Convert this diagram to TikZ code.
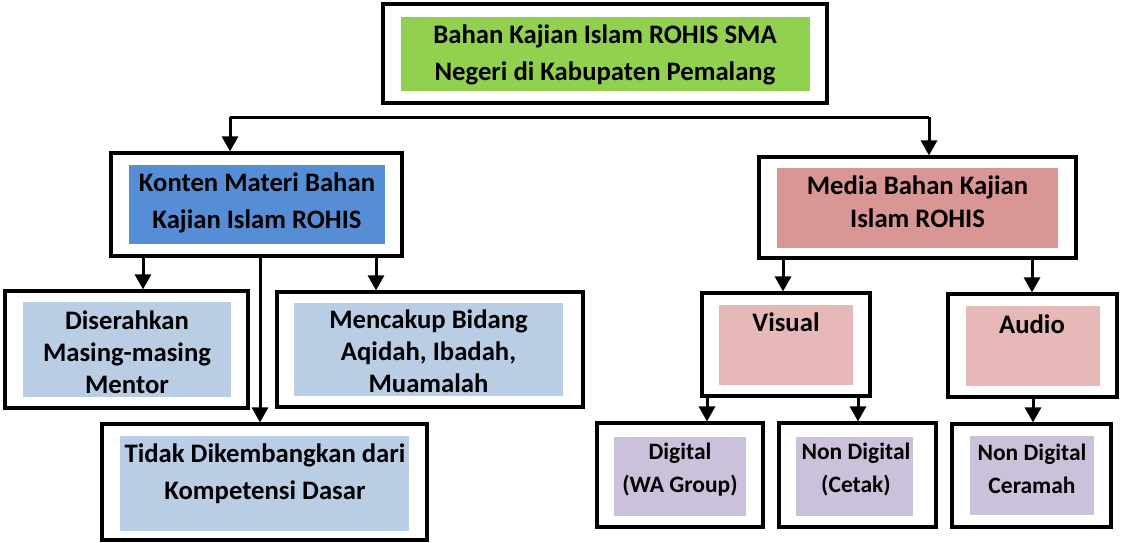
\documentclass[tikz,border=0pt]{standalone}
\usepackage{fontspec}
\setmainfont{Carlito}
\usetikzlibrary{arrows.meta}
\definecolor{cgreen}{RGB}{146,208,80}
\definecolor{cblue}{RGB}{85,142,213}
\definecolor{cmedia}{RGB}{217,150,148}
\definecolor{cpink}{RGB}{230,185,184}
\definecolor{clblue}{RGB}{185,205,229}
\definecolor{clav}{RGB}{204,193,218}
\tikzset{
  outerbox/.style={draw=black, line width=3.2pt, fill=white, inner sep=0pt, rectangle},
  fillbox/.style={draw=none, inner sep=0pt, rectangle},
  bigtxt/.style={font=\bfseries\fontsize{26.7}{37}\selectfont, align=center, inner sep=0pt, anchor=base},
  midtxt/.style={font=\bfseries\fontsize{26.7}{32}\selectfont, align=center, inner sep=0pt, anchor=base},
  medtxt/.style={font=\bfseries\fontsize{26.7}{33}\selectfont, align=center, inner sep=0pt, anchor=base},
  smalltxt/.style={font=\bfseries\fontsize{23.5}{33}\selectfont, align=center, inner sep=0pt, anchor=base},
  conn/.style={line width=3pt, -{Triangle[length=15pt,width=16pt]}},
  plain/.style={line width=3pt}
}
\begin{document}
\begin{tikzpicture}[x=1pt,y=-1pt]
\useasboundingbox (0,0) rectangle (1123,542);
% boxes
\node[outerbox, minimum width=444pt, minimum height=99pt] (top) at (605,53.5) {};
\node[fillbox, fill=cgreen, minimum width=409pt, minimum height=74pt] (topf) at (605.5,54) {};
\node[bigtxt] (topt) at (605,80) {Bahan Kajian Islam ROHIS SMA\\Negeri di Kabupaten Pemalang};

\node[outerbox, minimum width=291pt, minimum height=103pt] (konten) at (256.5,204.5) {};
\node[fillbox, fill=cblue, minimum width=256pt, minimum height=79pt] (kontenf) at (257,204.5) {};
\node[bigtxt] (kontent) at (257,228) {Konten Materi Bahan\\Kajian Islam ROHIS};

\node[outerbox, minimum width=243pt, minimum height=117pt] (diser) at (126.5,349.5) {};
\node[fillbox, fill=clblue, minimum width=208pt, minimum height=95pt] (diserf) at (127,349.5) {};
\node[midtxt] (disert) at (127,393) {Diserahkan\\Masing-masing\\Mentor};

\node[outerbox, minimum width=306pt, minimum height=115pt] (menc) at (430,349.5) {};
\node[fillbox, fill=clblue, minimum width=269pt, minimum height=93pt] (mencf) at (428.5,349.5) {};
\node[midtxt] (menct) at (428.5,392) {Mencakup Bidang\\Aqidah, Ibadah,\\Muamalah};

\node[outerbox, minimum width=325pt, minimum height=116pt] (tidak) at (264.5,482) {};
\node[fillbox, fill=clblue, minimum width=289pt, minimum height=95pt] (tidakf) at (264.5,483.5) {};
\node[bigtxt] (tidakt) at (265,499) {Tidak Dikembangkan dari\\Kompetensi Dasar};

\node[outerbox, minimum width=317pt, minimum height=101pt] (media) at (917.5,207.5) {};
\node[fillbox, fill=cmedia, minimum width=281pt, minimum height=80pt] (mediaf) at (917.5,208) {};
\node[medtxt] (mediat) at (917.5,227) {Media Bahan Kajian\\Islam ROHIS};

\node[outerbox, minimum width=168pt, minimum height=103pt] (visual) at (786,344.5) {};
\node[fillbox, fill=cpink, minimum width=134pt, minimum height=80pt] (visualf) at (786,345) {};
\node[bigtxt] (visualt) at (786,331) {Visual};

\node[outerbox, minimum width=169pt, minimum height=103pt] (audio) at (1032.5,345.5) {};
\node[fillbox, fill=cpink, minimum width=134pt, minimum height=80pt] (audiof) at (1033,346) {};
\node[bigtxt] (audiot) at (1032,333) {Audio};

\node[outerbox, minimum width=166pt, minimum height=104pt] (digital) at (680,475) {};
\node[fillbox, fill=clav, minimum width=132pt, minimum height=79pt] (digitalf) at (680,476.5) {};
\node[smalltxt] (digitalt) at (680,492) {Digital\\(WA Group)};

\node[outerbox, minimum width=157pt, minimum height=104pt] (cetak) at (857.5,475) {};
\node[fillbox, fill=clav, minimum width=117pt, minimum height=79pt] (cetakf) at (854.5,476.5) {};
\node[smalltxt] (cetakt) at (856,492) {Non Digital\\(Cetak)};

\node[outerbox, minimum width=159pt, minimum height=103pt] (ceramah) at (1031.5,475.5) {};
\node[fillbox, fill=clav, minimum width=124pt, minimum height=79pt] (ceramahf) at (1032,475.5) {};
\node[smalltxt] (ceramaht) at (1032,493) {Non Digital\\Ceramah};

% connectors
\coordinate (bl) at (230,117);
\coordinate (br) at (929,117);
\draw[plain] (bl) -- (br);
\draw[conn] (bl) -- (bl |- konten.north);
\draw[conn] (br) -- (br |- media.north);

\coordinate (k1) at (143,0);
\coordinate (k2) at (260,0);
\coordinate (k3) at (376,0);
\draw[conn] (k1 |- konten.south) -- (k1 |- diser.north);
\draw[conn] (k2 |- konten.south) -- (k2 |- tidak.north);
\draw[conn] (k3 |- konten.south) -- (k3 |- menc.north);

\coordinate (m1) at (783,0);
\coordinate (m2) at (1032,0);
\draw[conn] (m1 |- media.south) -- (m1 |- visual.north);
\draw[conn] (m2 |- media.south) -- (m2 |- audio.north);

\coordinate (v1) at (707,0);
\coordinate (v2) at (858,0);
\draw[conn] (v1 |- visual.south) -- (v1 |- digital.north);
\draw[conn] (v2 |- visual.south) -- (v2 |- cetak.north);

\coordinate (a1) at (1033,0);
\draw[conn] (a1 |- audio.south) -- (a1 |- ceramah.north);
\end{tikzpicture}
\end{document}
